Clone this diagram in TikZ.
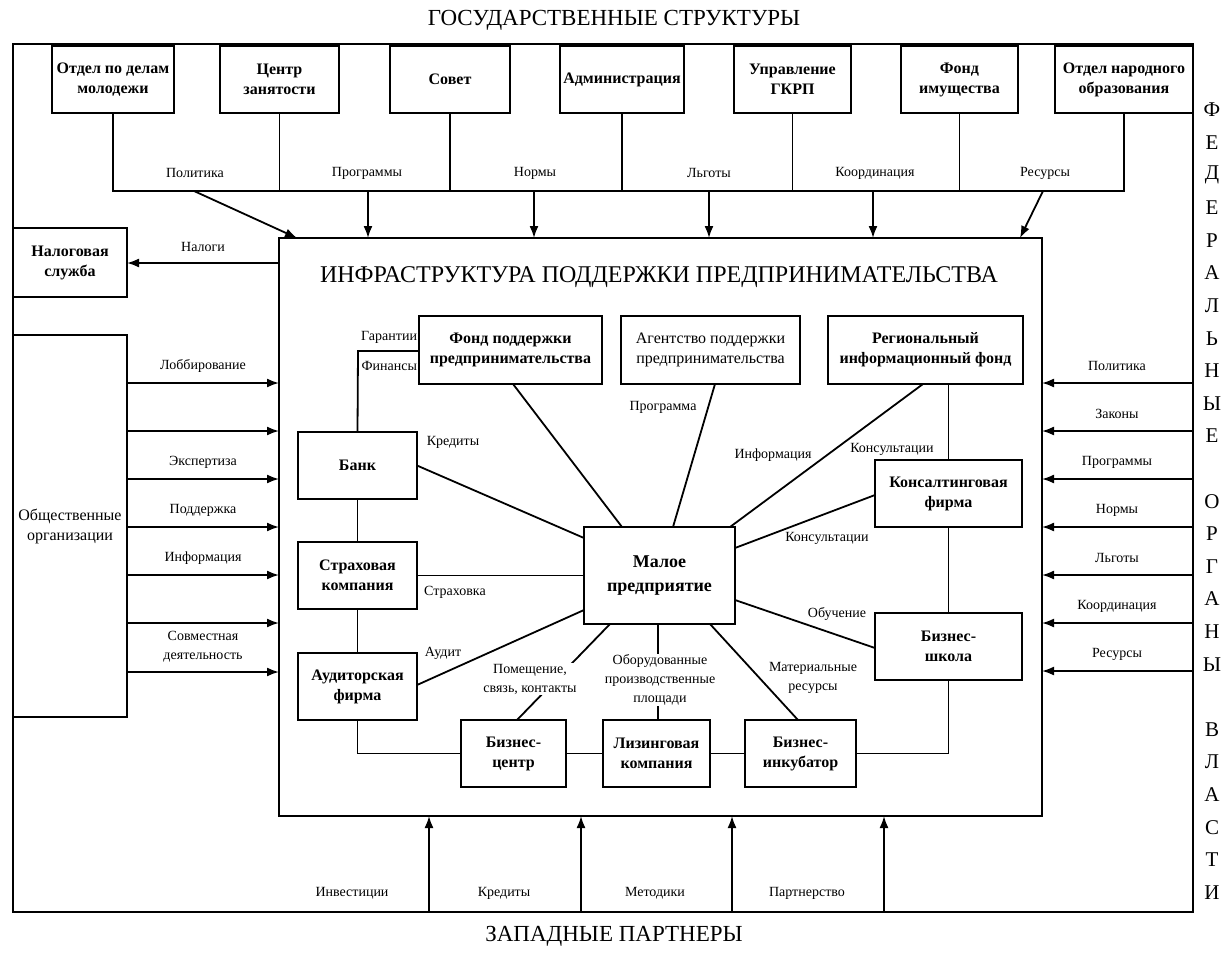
\documentclass[tikz,border=0pt]{standalone}
\usepackage{fontspec}
\setmainfont{Liberation Serif}
\usetikzlibrary{arrows.meta}
\begin{document}
\begin{tikzpicture}[x=1pt,y=-1pt,
  every node/.style={outer sep=0pt},
  box/.style={draw, line width=1.8pt, align=center, inner sep=0pt,
    font=\fontsize{16}{20}\selectfont\bfseries},
  rbox/.style={box, font=\fontsize{16}{20}\selectfont},
  lbl/.style={font=\fontsize{14}{19}\selectfont, align=center, inner sep=1pt},
  wlbl/.style={lbl, fill=white},
  ttl/.style={font=\fontsize{23}{26}\selectfont, inner sep=0pt},
  vl/.style={font=\fontsize{21}{22}\selectfont, inner sep=0pt},
  ln/.style={line width=1.8pt},
  arr/.style={line width=1.8pt, -{Latex[length=12pt,width=9pt]}},
]
\useasboundingbox[fill=white] (0,0) rectangle (1229,953);

% titles
\node[ttl] (tgos) at (614,20) {ГОСУДАРСТВЕННЫЕ СТРУКТУРЫ};
\node[ttl] (tzap) at (614,936) {ЗАПАДНЫЕ ПАРТНЕРЫ};
\foreach \ch [count=\i from 0] in {Ф,Е,Д,Е,Р,А,Л,Ь,Н,Ы,Е,{},О,Р,Г,А,Н,Ы,{},В,Л,А,С,Т,И}
  \node[vl] (v\i) at (1212,{110+32.6*\i}) {\ch};

% outer frame
\node[draw, line width=1.8pt, minimum width=1180, minimum height=868] (frame) at (603,478) {};

% top boxes
\node[box, minimum width=122, minimum height=67] (t1) at (113,79.5) {Отдел по делам\\молодежи};
\node[box, minimum width=119, minimum height=67] (t2) at (279.5,79.5) {Центр\\занятости};
\node[box, minimum width=120, minimum height=67] (t3) at (450,79.5) {Совет};
\node[box, minimum width=124, minimum height=67] (t4) at (622,79.5) {Администрация};
\node[box, minimum width=117, minimum height=67] (t5) at (792.5,79.5) {Управление\\ГКРП};
\node[box, minimum width=117, minimum height=67] (t6) at (959.5,79.5) {Фонд\\имущества};
\node[box, minimum width=138, minimum height=67] (t7) at (1124,79.5) {Отдел народного\\образования};

\coordinate (bus) at (0,191);
\draw[ln] (t1.south) -- (t1.south |- bus) -- (t7.south |- bus) -- (t7.south);
\foreach \k in {2,...,6} \draw[ln] (t\k.south) -- (t\k.south |- bus);

\node[lbl] (l1) at (195,173) {Политика};
\node[lbl] (l2) at (367,173) {Программы};
\node[lbl] (l3) at (535,173) {Нормы};
\node[lbl] (l4) at (709,173) {Льготы};
\node[lbl] (l5) at (875,173) {Координация};
\node[lbl] (l6) at (1045,173) {Ресурсы};

% inner box
\node[draw, line width=1.8pt, minimum width=763, minimum height=578] (ib) at (660.5,527) {};
\node[ttl, font=\fontsize{24}{26}\selectfont] (tinf) at (659,277) {ИНФРАСТРУКТУРА ПОДДЕРЖКИ ПРЕДПРИНИМАТЕЛЬСТВА};

\draw[arr] (bus -| 194,0) -- (ib.north -| 297,0);
\draw[arr] (bus -| 368,0) -- (ib.north -| 368,0);
\draw[arr] (bus -| 534,0) -- (ib.north -| 534,0);
\draw[arr] (bus -| 709,0) -- (ib.north -| 709,0);
\draw[arr] (bus -| 873,0) -- (ib.north -| 873,0);
\draw[arr] (bus -| 1043,0) -- (ib.north -| 1020,0);

% left side
\node[box, minimum width=114, minimum height=69] (nal) at (70,262.5) {Налоговая\\служба};
\draw[arr] (ib.west |- 0,263) -- (nal.east |- 0,263);
\node[lbl] (lnal) at (203,247) {Налоги};

\node[rbox, minimum width=114, minimum height=382] (obs) at (70,526) {Общественные\\организации};
\foreach \yy in {383,431,479,527,575,623,672}
  \draw[arr] (obs.east |- 0,\yy) -- (ib.west |- 0,\yy);
\node[lbl] (lo1) at (203,366) {Лоббирование};
\node[lbl] (lo2) at (203,462) {Экспертиза};
\node[lbl] (lo3) at (203,510) {Поддержка};
\node[lbl] (lo4) at (203,558) {Информация};
\node[lbl] (lo5) at (203,647) {Совместная\\деятельность};

% right side
\foreach \yy/\tx [count=\j] in {383/Политика,431/Законы,479/Программы,527/Нормы,575/Льготы,623/Координация,671/Ресурсы}{
  \draw[arr] (frame.east |- 0,\yy) -- (ib.east |- 0,\yy);
  \node[lbl] (lr\j) at (1117,\yy-17) {\tx};
}

% bottom
\foreach \xx/\tx [count=\j] in {429/Инвестиции,581/Кредиты,732/Методики,884/Партнерство}{
  \draw[arr] (frame.south -| \xx,0) -- (ib.south -| \xx,0);
  \node[lbl] (lb\j) at (\xx-77,893) {\tx};
}

% inner boxes
\node[box, minimum width=183, minimum height=68] (fond) at (510.5,350) {Фонд поддержки\\предпринимательства};
\node[rbox, minimum width=179, minimum height=68] (agent) at (710.5,350) {Агентство поддержки\\предпринимательства};
\node[box, minimum width=195, minimum height=68] (reg) at (925.5,350) {Региональный\\информационный фонд};
\node[box, minimum width=119, minimum height=67] (bank) at (357.5,465.5) {Банк};
\node[box, minimum width=119, minimum height=67] (strah) at (357.5,575.5) {Страховая\\компания};
\node[box, minimum width=119, minimum height=67] (audit) at (357.5,686.5) {Аудиторская\\фирма};
\node[box, minimum width=151, minimum height=97, font=\fontsize{18}{24}\selectfont\bfseries] (maloe) at (659.5,575.5) {Малое\\предприятие};
\node[box, minimum width=147, minimum height=67] (kons) at (948.5,493.5) {Консалтинговая\\фирма};
\node[box, minimum width=147, minimum height=67] (shk) at (948.5,646.5) {Бизнес-\\школа};
\node[box, minimum width=105, minimum height=67] (bc) at (513.5,753.5) {Бизнес-\\центр};
\node[box, minimum width=107, minimum height=67] (liz) at (656.5,753.5) {Лизинговая\\компания};
\node[box, minimum width=111, minimum height=67] (inc) at (800.5,753.5) {Бизнес-\\инкубатор};

% chain lines
\coordinate (gf) at (358,351);
\draw[ln] (fond.west |- gf) -- (gf) -- (bank.north);
\node[lbl, anchor=east] (lgar) at (418,337) {Гарантии};
\node[lbl, anchor=east] (lfin) at (418,366) {Финансы};
\draw[ln] (bank.south) -- (strah.north);
\draw[ln] (strah.south) -- (audit.north);
\draw[ln] (audit.south) -- (audit.south |- bc.west) -- (bc.west);
\draw[ln] (bc.east) -- (liz.west);
\draw[ln] (liz.east) -- (inc.west);
\draw[ln] (inc.east) -- (shk.south |- inc.east) -- (shk.south);
\draw[ln] (shk.north) -- (kons.south);
\draw[ln] (kons.north) -- (reg.south -| kons.north);

% spokes
\draw[ln] (bank.east) -- (maloe.west |- 0,538);
\draw[ln] (fond.south -| 513,0) -- (maloe.north -| 622,0);
\draw[ln] (agent.south -| 715,0) -- (maloe.north -| 673,0);
\draw[ln] (reg.south -| 923,0) -- (maloe.north -| 730,0);
\draw[ln] (kons.west |- 0,495) -- (maloe.east |- 0,548);
\draw[ln] (maloe.east |- 0,600) -- (shk.west |- 0,648);
\draw[ln] (strah.east) -- (maloe.west |- strah.east);
\draw[ln] (audit.east |- 0,685) -- (maloe.west |- 0,610);
\draw[ln] (maloe.south -| 610,0) -- (bc.north -| 517,0);
\draw[ln] (maloe.south -| 658,0) -- (liz.north -| 658,0);
\draw[ln] (maloe.south -| 710,0) -- (inc.north -| 798,0);

% spoke labels
\node[lbl] (lkr) at (453,442) {Кредиты};
\node[lbl] (lpr) at (663,407) {Программа};
\node[lbl] (linf) at (773,455) {Информация};
\node[lbl] (lk1) at (892,449) {Консультации};
\node[lbl] (lk2) at (827,538) {Консультации};
\node[lbl] (lob) at (837,614) {Обучение};
\node[lbl] (lst) at (455,592) {Страховка};
\node[lbl] (lau) at (443,653) {Аудит};
\node[wlbl] (lpom) at (530,679) {Помещение,\\связь, контакты};
\node[wlbl] (lobo) at (660,680) {Оборудованные\\производственные\\площади};
\node[lbl] (lmat) at (813,678) {Материальные\\ресурсы};
\end{tikzpicture}
\end{document}
